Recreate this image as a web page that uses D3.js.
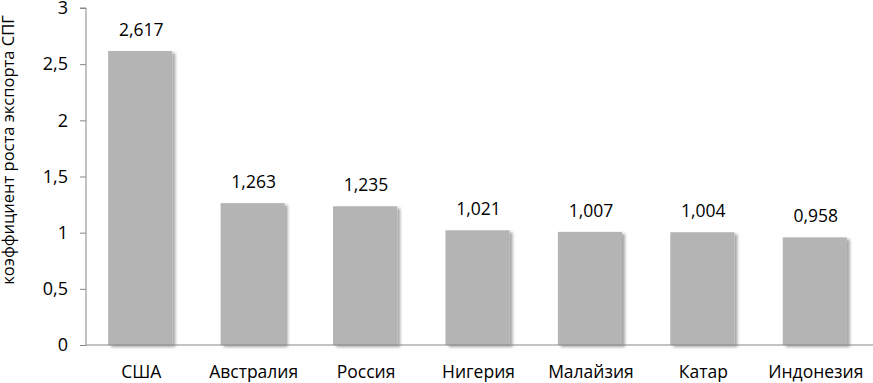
<!DOCTYPE html>
<html>
<head>
<meta charset="utf-8">
<script src="https://cdn.jsdelivr.net/npm/d3@7"></script>
<style>
  body { margin: 0; background: #fff; }
  text { font-family: "Open Sans", "Noto Sans", sans-serif; fill: #000; }
</style>
</head>
<body>
<div id="container"></div>
<script>
const countries = ["США", "Австралия", "Россия", "Нигерия", "Малайзия", "Катар", "Индонезия"];
const growth = [2.617, 1.263, 1.235, 1.021, 1.007, 1.004, 0.958];
const yTicks = [0, 0.5, 1, 1.5, 2, 2.5, 3];

const w = 873, h = 383;
const mLeft = 86, mRight = 873, mTop = 8, mBottom = 345;
const comma = v => String(v).replace(".", ",");

const svg = d3.select("#container").append("svg").attr("width", w).attr("height", h);

// shadow for bars
const f = svg.append("defs").append("filter").attr("id", "shadow")
  .attr("x", "-20%").attr("y", "-20%").attr("width", "150%").attr("height", "150%");
f.append("feDropShadow").attr("dx", 3).attr("dy", 2).attr("stdDeviation", 1.8)
  .attr("flood-color", "#000").attr("flood-opacity", 0.35);

const x = d3.scaleBand().domain(countries).range([mLeft, mRight]).paddingInner(0.43).paddingOuter(0.215);
const y = d3.scaleLinear().domain([0, 3]).range([mBottom, mTop]);

// bars
svg.selectAll("rect.bar").data(growth).enter().append("rect")
  .attr("class", "bar")
  .attr("x", (d, i) => x(countries[i]) - 2)
  .attr("y", d => y(d))
  .attr("width", x.bandwidth())
  .attr("height", d => mBottom - y(d))
  .attr("fill", "#b4b4b4")
  .attr("filter", "url(#shadow)");

// value labels
svg.selectAll("text.val").data(growth).enter().append("text")
  .attr("class", "val")
  .attr("x", (d, i) => x(countries[i]) - 1 + x.bandwidth() / 2)
  .attr("y", d => y(d) - 15)
  .attr("text-anchor", "middle")
  .style("font-size", "17.5px")
  .text(d => comma(d.toFixed(3)));

// y axis
const yAxis = d3.axisLeft(y).tickValues(yTicks).tickSize(6).tickPadding(12).tickFormat(comma);
const gy = svg.append("g").attr("transform", "translate(" + mLeft + ",0)").call(yAxis);
gy.select(".domain").attr("stroke", "#868686").attr("d", "M-6," + mTop + "H0V" + mBottom);
gy.selectAll(".tick line").attr("stroke", "#868686");
gy.selectAll(".tick text").style("font-size", "18px").style("font-family", "'Open Sans', sans-serif").attr("fill", "#000");

// x axis
const xAxis = d3.axisBottom(x).tickSize(0).tickPadding(21);
const gx = svg.append("g").attr("transform", "translate(-1," + mBottom + ")").call(xAxis);
gx.select(".domain").attr("stroke", "#868686").attr("d", "M" + (mLeft + 1) + ",0H" + (mRight + 1));
gx.selectAll(".tick text").style("font-size", "17.5px").style("font-family", "'Open Sans', sans-serif").attr("fill", "#000");

// y title
svg.append("text")
  .attr("transform", "translate(14,150) rotate(-90)")
  .attr("text-anchor", "middle")
  .style("font-size", "16.5px")
  .text("коэффициент роста экспорта СПГ");
</script>
</body>
</html>
